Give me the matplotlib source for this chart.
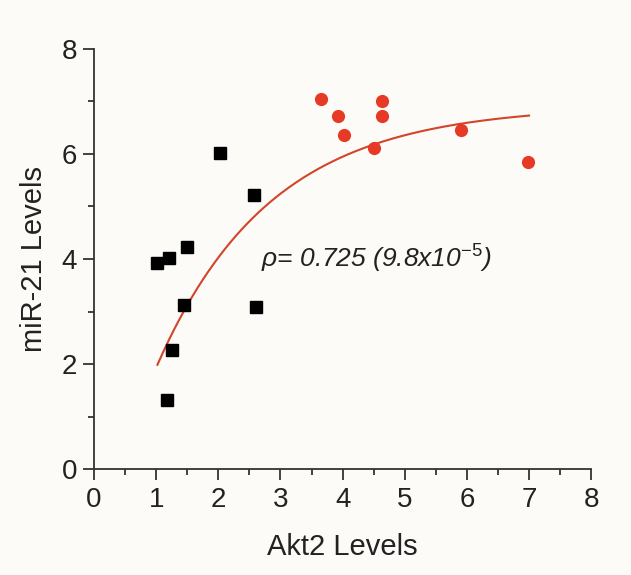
import numpy as np
import matplotlib.pyplot as plt
from matplotlib.ticker import MultipleLocator

plt.rcParams['font.family'] = ['Liberation Sans', 'DejaVu Sans']
plt.rcParams['mathtext.fontset'] = 'custom'
plt.rcParams['mathtext.rm'] = 'Liberation Sans'
plt.rcParams['mathtext.it'] = 'Liberation Sans:italic'

# niveles bajos (cuadrados negros)
akt2_low = [1.02, 1.2, 1.5, 1.44, 1.25, 1.18, 2.03, 2.57, 2.6]
mir21_low = [3.93, 4.02, 4.22, 3.12, 2.27, 1.32, 6.02, 5.22, 3.08]

# niveles altos (circulos rojos)
akt2_high = [3.65, 3.93, 4.03, 4.5, 4.63, 4.64, 5.9, 6.98]
mir21_high = [7.05, 6.73, 6.36, 6.12, 7.0, 6.72, 6.45, 5.85]

# ajuste exponencial y = A - B*exp(-k*x)
A_fit = 6.92
B_fit = 8.6
k_fit = 0.545
x_fit_min = 1.02
x_fit_max = 7.0

fig = plt.figure(figsize=(6.31, 5.75), dpi=100)
fig.patch.set_facecolor('#fdfbf8')
ax = fig.add_axes([0.149, 0.184, 0.788, 0.731])
ax.set_facecolor('#fdfbf8')

xs = np.linspace(x_fit_min, x_fit_max, 200)
ax.plot(xs, A_fit - B_fit * np.exp(-k_fit * xs), color='#d2452a', lw=1.5, zorder=2)

ax.plot(akt2_low, mir21_low, 's', color='black', markersize=9, zorder=3)
ax.plot(akt2_high, mir21_high, 'o', color='#e63a26', markersize=9.5,
        markeredgewidth=0, zorder=3)

ax.text(2.68, 4.0, '\u03c1= 0.725 (9.8x10$^{-5}$)', fontsize=19,
        style='italic', color='#222222', va='center')

ax.set_xlim(0, 8)
ax.set_ylim(0, 8)
ax.xaxis.set_major_locator(MultipleLocator(1))
ax.xaxis.set_minor_locator(MultipleLocator(0.5))
ax.yaxis.set_major_locator(MultipleLocator(2))
ax.yaxis.set_minor_locator(MultipleLocator(1))
ax.spines['top'].set_visible(False)
ax.spines['right'].set_visible(False)
for s in ['left', 'bottom']:
    ax.spines[s].set_linewidth(1.3)
    ax.spines[s].set_color('#333333')
ax.tick_params(which='major', length=8, width=1.3, labelsize=20, direction='out',
               colors='#333333', labelcolor='#222222')
ax.tick_params(which='minor', length=4, width=1.3, direction='out', colors='#333333')
ax.tick_params(axis='x', pad=5)
ax.tick_params(axis='y', pad=4)

ax.set_xlabel('Akt2 Levels', fontsize=21, labelpad=14, color='#222222')
ax.set_ylabel('miR-21 Levels', fontsize=21, labelpad=10, color='#222222')

fig.savefig('out.png', dpi=100, facecolor=fig.get_facecolor())
